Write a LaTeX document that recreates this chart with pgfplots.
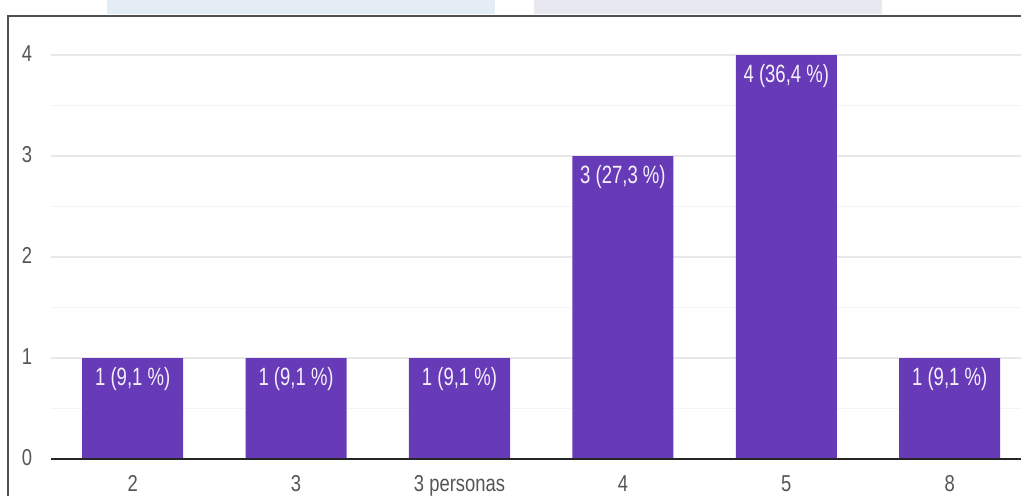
\documentclass[border=0pt]{standalone}
\usepackage{fontspec}
\setmainfont{Liberation Sans}
\newfontfamily\ticksfont[FakeStretch=0.8]{Liberation Sans}
\newfontfamily\barfont[FakeStretch=0.74]{Liberation Sans}
\usepackage{pgfplots}
\usepackage{pgfplotstable}
\pgfplotsset{compat=1.18}
\definecolor{barpurple}{HTML}{673AB7}
\definecolor{gridmaj}{HTML}{E8E8E8}
\definecolor{gridmin}{HTML}{F4F4F4}
\definecolor{ticktext}{HTML}{555555}
\definecolor{stripA}{HTML}{E4EDF6}
\definecolor{stripB}{HTML}{E8E8F1}
\definecolor{framec}{HTML}{505050}
\pgfplotstableread[col sep=semicolon,row sep=\\]{
x;y;label\\
0;1;1 (9,1 \%)\\
1;1;1 (9,1 \%)\\
2;1;1 (9,1 \%)\\
3;3;3 (27,3 \%)\\
4;4;4 (36,4 \%)\\
5;1;1 (9,1 \%)\\
}\datatable
\begin{document}
\begin{tikzpicture}
\path[use as bounding box] (0,0) rectangle (510.5bp,248bp);
\clip (0,0) rectangle (510.5bp,248bp);
\fill[stripA] (53.5bp,241bp) rectangle (247.5bp,248bp);
\fill[stripB] (267bp,241bp) rectangle (441bp,248bp);
\draw[framec, line width=0.9bp] (4bp,-2bp) -- (4bp,240bp) -- (520bp,240bp);
\begin{axis}[
  at={(25.5bp,18.5bp)}, anchor=south west,
  scale only axis,
  width=490.2bp, height=202bp,
  xmin=-0.5, xmax=5.5, ymin=0, ymax=4,
  enlargelimits=false,
  axis line style={draw=none},
  ybar, bar width=50.5bp,
  xtick={0,1,2,3,4,5},
  xticklabels={2,3,3 personas,4,5,8},
  ytick={0,1,2,3,4},
  minor ytick={0.5,1.5,2.5,3.5},
  ymajorgrids, yminorgrids,
  major grid style={gridmaj, line width=0.7bp},
  minor grid style={gridmin, line width=0.6bp},
  major tick length=0pt, minor tick length=0pt,
  /pgf/number format/assume math mode=true,
  x tick label style={anchor=base, yshift=-16.3bp, inner sep=0pt, font=\ticksfont\fontsize{11.5bp}{13bp}\selectfont, text=ticktext},
  y tick label style={anchor=center, xshift=-12bp, yshift=0.75bp, inner sep=0pt, font=\ticksfont\fontsize{11.5bp}{13bp}\selectfont, text=ticktext},
  point meta=explicit symbolic,
  nodes near coords={\pgfplotspointmeta},
  nodes near coords align={below},
  every node near coord/.append style={yshift=-4.6bp, inner sep=0pt, text=white!93!barpurple, font=\barfont\fontsize{12.5bp}{14bp}\selectfont},
  clip=false,
]
\addplot[fill=barpurple, draw=none] table[x=x, y=y, meta=label] {\datatable};
\draw[black!85, line width=1bp] (axis cs:-0.5,0) -- (axis cs:5.5,0);
\end{axis}
\end{tikzpicture}
\end{document}
